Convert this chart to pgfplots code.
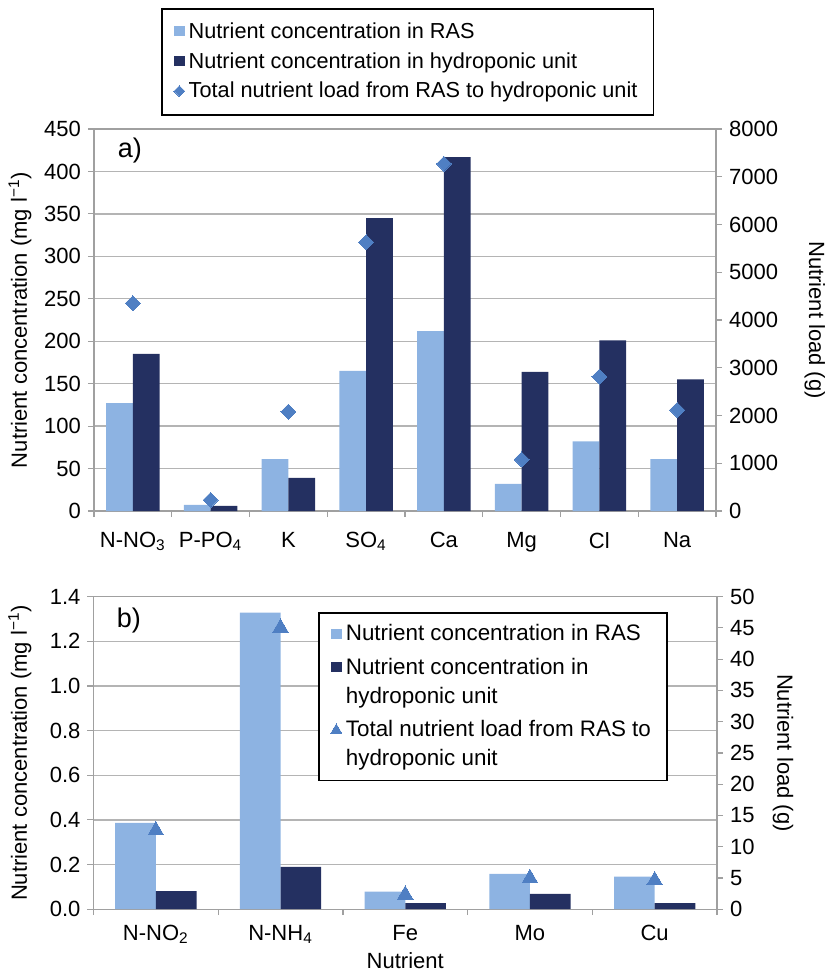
\documentclass[border=0pt]{standalone}
\usepackage{pgfplots}
\pgfplotsset{compat=1.18}
\usepackage{fontspec}
\setmainfont{Liberation Sans}
\definecolor{ras}{HTML}{8DB3E2}
\definecolor{hyd}{HTML}{243061}
\definecolor{load}{HTML}{4F7FC3}
\definecolor{gridc}{HTML}{B4B4B4}
\definecolor{axc}{HTML}{A0A0A0}
\pgfplotsset{
  sqlegend/.style={legend image code/.code={\fill[##1] (0pt,1pt) rectangle (5.2pt,6.2pt);}},
  mklegend/.style={legend image code/.code={\draw[##1] plot coordinates {(2.6pt,3.4pt)};}},
  sqlegendtwo/.style={legend image code/.code={\fill[##1] (0pt,15.5pt) rectangle (5.2pt,20.7pt);}},
  mklegendtwo/.style={legend image code/.code={\draw[##1] plot coordinates {(2.6pt,17.6pt)};}},
  common/.style={
    scale only axis, width=311pt,
    axis line style={draw=axc, line width=0.6pt},
    tick style={draw=axc, line width=0.6pt},
    tick align=outside,
    major tick length=3pt, minor tick length=3pt,
    tick label style={font=\fontsize{11}{13}\selectfont},
    label style={font=\fontsize{11}{13}\selectfont},
    /pgf/number format/assume math mode=true,
    /pgf/number format/1000 sep={},
    scaled ticks=false,
  },
  leftax/.style={
    common,
    ybar=0pt,
    ytick pos=left, xtick pos=left,
    ymajorgrids, grid style={draw=gridc, line width=0.7pt},
    major x tick style={draw=none},
    xtick=data,
  },
  rightax/.style={
    common,
    hide x axis,
    ytick pos=right, yticklabel pos=right,
    axis line style={draw=axc, line width=0.6pt},
  },
}
\pgfplotstableread{
x ras hyd load
0 127 185 4350
1 7.1 5.9 230
2 61 39 2080
3 165 345 5630
4 212 417 7270
5 32 164 1080
6 82 201 2810
7 61 155 2115
}\dataA
\pgfplotstableread{
x ras hyd load
0 0.387 0.081 12.6
1 1.328 0.190 45.0
2 0.079 0.027 2.3
3 0.158 0.069 4.95
4 0.146 0.027 4.6
}\dataB
\begin{document}
\begin{tikzpicture}[font=\fontsize{11}{13}\selectfont]
\useasboundingbox (0,0) rectangle (412pt,-486pt);
% ---------------- panel a ----------------
\begin{axis}[leftax,
  at={(47pt,-255.5pt)}, anchor=south west, height=191pt,
  xmin=-0.5, xmax=7.5, ymin=0, ymax=450, ytick={0,50,...,450},
  bar width=0.343,
  xticklabels={N-NO\textsubscript{3},P-PO\textsubscript{4},K,SO\textsubscript{4},Ca,Mg,Cl,Na},
  xticklabel style={yshift=-4pt},
  minor xtick={-0.5,0.5,...,7.5},
  ylabel={Nutrient concentration (mg l\textsuperscript{−1})},
  ylabel style={at={(axis description cs:-0.119,0.5)}, anchor=center},
]
\addplot[fill=ras, draw=none] table[x=x, y=ras] {\dataA};
\addplot[fill=hyd, draw=none] table[x=x, y=hyd] {\dataA};
\end{axis}
\begin{axis}[rightax,
  at={(47pt,-255.5pt)}, anchor=south west, height=191pt,
  xmin=-0.5, xmax=7.5, ymin=0, ymax=8000, ytick={0,1000,...,8000},
  ylabel={Nutrient load (g)},
  ylabel style={at={(axis description cs:1.159,0.5)}, anchor=center, rotate=180},
  legend cell align=left,
  legend style={at={(axis description cs:0.108,1.317)}, anchor=north west,
    draw=black, line width=0.8pt, fill=white, font=\fontsize{10.85}{12.5}\selectfont,
    inner xsep=6pt, inner ysep=5pt, row sep=1.5pt,
    cells={anchor=base west}},
]
\addlegendimage{sqlegend, fill=ras, draw=none}
\addlegendentry{Nutrient concentration in RAS}
\addlegendimage{sqlegend, fill=hyd, draw=none}
\addlegendentry{Nutrient concentration in hydroponic unit}
\addlegendimage{mklegend, draw=none, mark=square*, mark size=1.9pt, mark options={rotate=45, fill=load, draw=load, line width=0pt}}
\addlegendentry{Total nutrient load from RAS to hydroponic unit}
\addplot[forget plot, only marks, mark=square*, mark size=2.65pt, mark options={rotate=45, fill=load, draw=load, line width=0pt}] table[x=x, y=load] {\dataA};
\node[anchor=west, font=\fontsize{13.5}{16}\selectfont] at (axis description cs:0.027,0.945) {a)};
\end{axis}
% ---------------- panel b ----------------
\begin{axis}[leftax,
  at={(46.75pt,-454.6pt)}, anchor=south west, height=156.3pt, width=311.75pt,
  xmin=-0.5, xmax=4.5, ymin=0, ymax=1.4, ytick={0,0.2,...,1.4},
  yticklabel style={/pgf/number format/.cd, fixed, fixed zerofill, precision=1},
  bar width=0.326,
  xticklabels={N-NO\textsubscript{2},N-NH\textsubscript{4},Fe,Mo,Cu},
  xticklabel style={yshift=-1.5pt},
  minor xtick={-0.5,0.5,...,4.5},
  xlabel={Nutrient},
  xlabel style={at={(axis description cs:0.5,-0.163)}, anchor=center},
  ylabel={Nutrient concentration (mg l\textsuperscript{−1})},
  ylabel style={at={(axis description cs:-0.118,0.5)}, anchor=center},
]
\addplot[fill=ras, draw=none] table[x=x, y=ras] {\dataB};
\addplot[fill=hyd, draw=none] table[x=x, y=hyd] {\dataB};
\end{axis}
\begin{axis}[rightax,
  at={(46.75pt,-454.6pt)}, anchor=south west, height=156.3pt, width=311.75pt,
  xmin=-0.5, xmax=4.5, ymin=0, ymax=50, ytick={0,5,...,50},
  ylabel={Nutrient load (g)},
  ylabel style={at={(axis description cs:1.106,0.5)}, anchor=center, rotate=180},
  legend cell align=left,
  legend style={at={(axis description cs:0.360,0.951)}, anchor=north west,
    draw=black, line width=0.8pt, fill=white, font=\fontsize{11.2}{14.5}\selectfont,
    inner xsep=6pt, inner ysep=4pt, row sep=3pt,
    cells={align=left, anchor=base west}},
]
\addlegendimage{sqlegend, fill=ras, draw=none}
\addlegendentry{Nutrient concentration in RAS}
\addlegendimage{sqlegendtwo, fill=hyd, draw=none}
\addlegendentry{Nutrient concentration in\\hydroponic unit}
\addlegendimage{mklegendtwo, draw=none, mark=triangle*, mark size=3.2pt, mark options={fill=load, draw=load, line width=0pt}}
\addlegendentry{Total nutrient load from RAS to\\hydroponic unit}
\addplot[forget plot, only marks, mark=triangle*, mark size=4.5pt, mark options={fill=load, draw=load, line width=0pt}] table[x=x, y=load] {\dataB};
\node[anchor=west, font=\fontsize{13.5}{16}\selectfont] at (axis description cs:0.026,0.925) {b)};
\end{axis}
\end{tikzpicture}
\end{document}
